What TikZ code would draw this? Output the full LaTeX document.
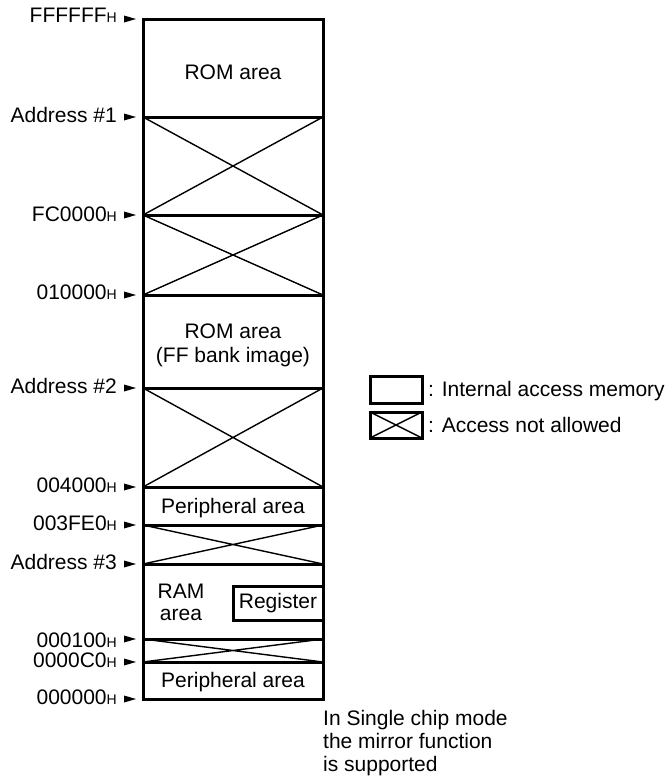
\documentclass[tikz,border=0pt]{standalone}
\usepackage{fontspec}
\setmainfont{Liberation Sans}
\newcommand\hsuf{{\fontsize{14}{14}\selectfont H}}
\begin{document}
\begin{tikzpicture}[x=1pt,y=-1pt,
  every node/.style={inner sep=0pt, font=\fontsize{21}{24}\selectfont},
  area/.style={draw, line width=3pt},
  xline/.style={line width=1.4pt},
  addr/.style={anchor=base east},
  ctext/.style={anchor=base},
  ltext/.style={anchor=base west}]
\useasboundingbox (0,0) rectangle (668,780);

% crossed (access not allowed) regions
\foreach \a/\b in {117/215, 215/295, 388/487, 525/564, 639/662}{
  \draw[xline] (143,\a) -- (323,\b) (143,\b) -- (323,\a);
}
% dividers and outline
\foreach \y in {117,215,295,388,487,525,564,639,662}
  \draw[area] (143,\y) -- (323,\y);
\draw[area] (143,19) rectangle (323,699);
% register box
\draw[area] (233,586) rectangle (323,620);

% area texts
\node[ctext] (rom1) at (233,79) {ROM area};
\node[ctext] (rom2) at (233,338) {ROM area};
\node[ctext] (rom2b) at (233,362) {(FF bank image)};
\node[ctext] (per1) at (233,513) {Peripheral area};
\node[ctext] (ram1) at (181,598) {RAM};
\node[ctext] (ram2) at (181,620) {area};
\node (reg) at (278,603) {Register};
\node[ctext] (per2) at (233,687) {Peripheral area};

% address labels
\node[addr] (a1) at (117,22) {FFFFFF\hsuf};
\node[addr] (a2) at (117,122) {Address \#1};
\node[addr] (a3) at (117,221) {FC0000\hsuf};
\node[addr] (a4) at (117,299) {010000\hsuf};
\node[addr] (a5) at (117,393) {Address \#2};
\node[addr] (a6) at (117,492) {004000\hsuf};
\node[addr] (a7) at (117,530) {003FE0\hsuf};
\node[addr] (a8) at (117,569) {Address \#3};
\node[addr] (a9) at (117,647) {000100\hsuf};
\node[addr] (a10) at (117,667) {0000C0\hsuf};
\node[addr] (a11) at (117,704) {000000\hsuf};

% pointer triangles
\foreach \y in {19,117,215,295,388,487,525,564,639,662,699}
  \fill (124,\y-3.5) -- (136,\y) -- (124,\y+3.5) -- cycle;

% legend
\draw[area] (370,376) rectangle (422,403);
\draw[area] (370,412) rectangle (422,438);
\draw[xline] (370,412) -- (422,438) (370,438) -- (422,412);
\node[ltext] (lg1) at (428,396) {: Internal access memory};
\node[ltext] (lg2) at (428,432) {: Access not allowed};

% note
\node[ltext] (n1) at (323,725) {In Single chip mode};
\node[ltext] (n2) at (323,748) {the mirror function};
\node[ltext] (n3) at (323,771) {is supported};
\end{tikzpicture}
\end{document}
